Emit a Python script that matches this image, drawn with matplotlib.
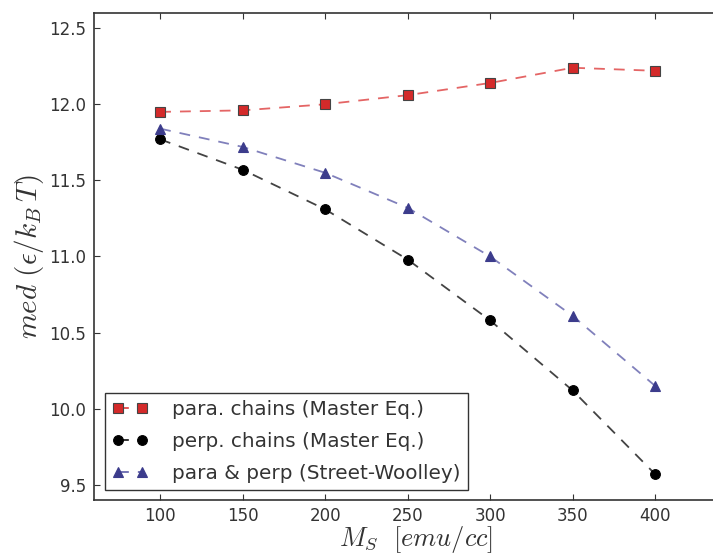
import matplotlib
matplotlib.use("Agg")
import matplotlib.pyplot as plt

plt.rcParams["font.family"] = ["DejaVu Sans"]
plt.rcParams["mathtext.fontset"] = "cm"

# Saturation magnetisation [emu/cc]
ms = [100, 150, 200, 250, 300, 350, 400]

# Median energy barrier (eps / k_B T)
para_master = [11.95, 11.96, 12.00, 12.06, 12.14, 12.24, 12.22]
perp_master = [11.77, 11.57, 11.31, 10.98, 10.58, 10.12, 9.57]
street_woolley = [11.84, 11.72, 11.55, 11.32, 11.00, 10.61, 10.15]

labels = ["para. chains (Master Eq.)",
          "perp. chains (Master Eq.)",
          "para & perp (Street-Woolley)"]

xticks = [100, 150, 200, 250, 300, 350, 400]
yticks = [9.5, 10.0, 10.5, 11.0, 11.5, 12.0, 12.5]

fig = plt.figure(figsize=(7.13, 5.56), dpi=100)
ax = fig.add_axes([0.132, 0.1007, 0.9025, 0.876])

series = [
    (para_master, "s", "#d42a2a", "#e04a4a", 7.5, "#444444"),
    (perp_master, "o", "black", "#222222", 7.0, "black"),
    (street_woolley, "^", "#3c3c8c", "#6a6ab0", 7.5, "#3c3c8c"),
]

for vals, mk, mcol, lcol, msz, mec, lab in [s + (l,) for s, l in zip(series, labels)]:
    # dashed connecting line, slightly lighter than the markers
    ax.plot(ms, vals, linestyle="--", dashes=(6, 5), color=lcol, lw=1.3, alpha=0.85)
    ax.plot(ms, vals, linestyle="none", marker=mk, markersize=msz,
            markerfacecolor=mcol, markeredgecolor=mec, markeredgewidth=0.8)
    # proxy entry for the legend
    ax.plot([], [], linestyle="--", dashes=(6, 5), color=lcol, lw=1.3,
            marker=mk, markersize=msz, markerfacecolor=mcol,
            markeredgecolor=mec, markeredgewidth=0.8, label=lab)

ax.set_xlim(60, 450)
ax.set_ylim(9.4, 12.6)
ax.set_xticks(xticks)
ax.set_yticks(yticks)
ax.set_yticklabels([f"{v:.1f}" for v in yticks])

ax.tick_params(direction="in", top=True, right=True, length=4, width=0.8,
               labelsize=12, colors="#333333")
ax.tick_params(axis="x", pad=5)
ax.tick_params(axis="y", pad=6)
for sp in ax.spines.values():
    sp.set_linewidth(1.2)
    sp.set_color("#333333")

ax.set_xlabel(r"$M_S\ \ [emu/cc]$", fontsize=19, color="#333333", labelpad=-1)
ax.set_ylabel(r"$med\ (\epsilon/k_B\,T)$", fontsize=21, color="#333333", labelpad=2)

leg = ax.legend(loc="lower left", bbox_to_anchor=(0.017, 0.02), borderaxespad=0,
                numpoints=2, fontsize=14.4, fancybox=False, framealpha=1,
                edgecolor="#333333", handlelength=1.8, handletextpad=1.2,
                labelspacing=0.65, borderpad=0.35)
leg.get_frame().set_linewidth(1.0)
for t in leg.get_texts():
    t.set_color("#333333")

fig.savefig("out.png", dpi=100)
